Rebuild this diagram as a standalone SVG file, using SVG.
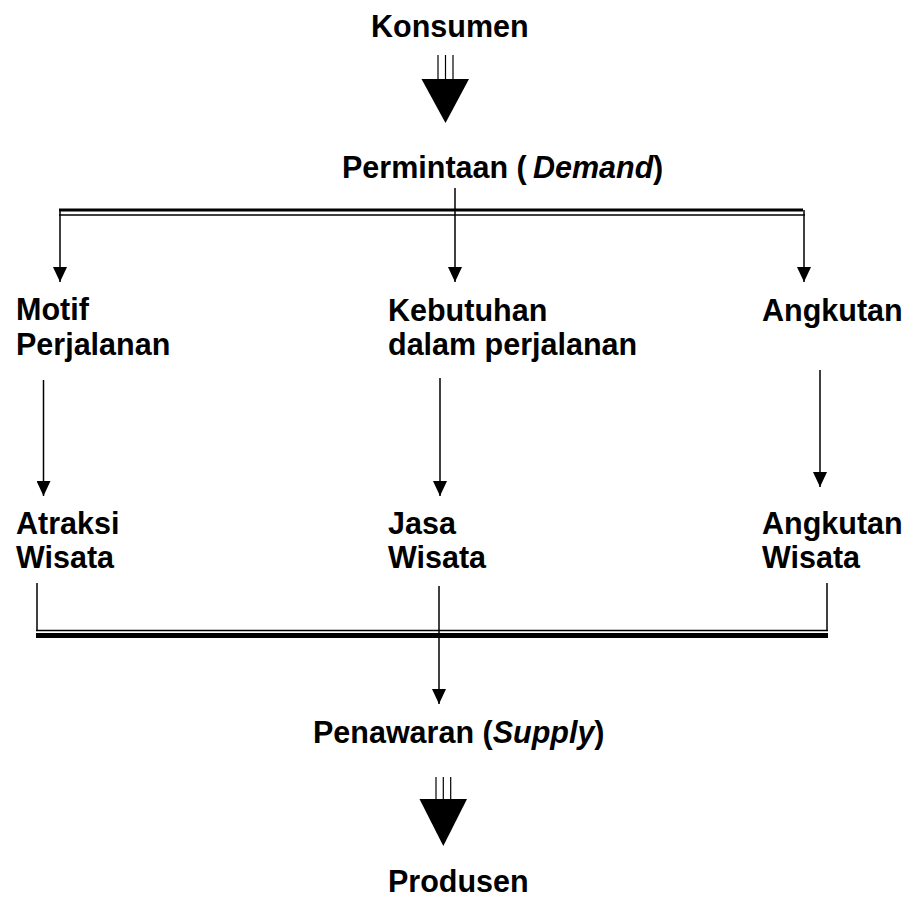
<svg xmlns="http://www.w3.org/2000/svg" width="907" height="897" viewBox="0 0 907 897">
<style>
text{font-family:"Liberation Sans",Arial,sans-serif;font-weight:bold;font-size:30.5px;fill:#000}
.it{font-style:italic}
.ln{stroke:#000;stroke-width:1.5;fill:none}
.thin{stroke:#000;stroke-width:1.2;fill:none}
.head{fill:#000}
</style>
<defs>
<marker id="ah" viewBox="0 0 15 14" refX="15" refY="7" markerWidth="15" markerHeight="14" markerUnits="userSpaceOnUse" orient="auto">
<path d="M0,0 L15,7 L0,14 Z" fill="#000"/>
</marker>
</defs>
<rect width="907" height="897" fill="#fff"/>

<g id="konsumen"><text x="371" y="37">Konsumen</text></g>
<g id="permintaan"><text x="342" y="178">Permintaan (<tspan x="533" class="it">Demand</tspan><tspan x="653">)</tspan></text></g>
<g id="motif"><text x="16" y="320">Motif</text><text x="16" y="355">Perjalanan</text></g>
<g id="kebutuhan"><text x="388" y="321">Kebutuhan</text><text x="388" y="355">dalam perjalanan</text></g>
<g id="angkutan"><text x="762" y="321">Angkutan</text></g>
<g id="atraksi"><text x="16" y="534">Atraksi</text><text x="16" y="568">Wisata</text></g>
<g id="jasa"><text x="388" y="534">Jasa</text><text x="388" y="568">Wisata</text></g>
<g id="angkutan-wisata"><text x="762" y="534">Angkutan</text><text x="762" y="568">Wisata</text></g>
<g id="penawaran"><text x="313" y="743">Penawaran (<tspan class="it">Supply</tspan>)</text></g>
<g id="produsen"><text x="388" y="892">Produsen</text></g>

<g id="connectors">
<g class="thin"><line x1="438" y1="55" x2="438" y2="80"/><line x1="445.5" y1="55" x2="445.5" y2="80"/><line x1="453" y1="55" x2="453" y2="80"/></g>
<polygon class="head" points="421.5,79 469,79 445.5,123"/>
<line x1="59" y1="210" x2="803" y2="210" stroke="#000" stroke-width="3"/>
<line x1="59" y1="215" x2="805" y2="215" stroke="#000" stroke-width="1.5"/>
<line class="ln" x1="455" y1="188" x2="455" y2="282" marker-end="url(#ah)"/>
<line class="ln" x1="60" y1="210" x2="60" y2="282" marker-end="url(#ah)"/>
<line class="ln" x1="804" y1="210" x2="804" y2="282" marker-end="url(#ah)"/>
<line class="ln" x1="43.5" y1="380" x2="43.5" y2="496" marker-end="url(#ah)"/>
<line class="ln" x1="440" y1="378" x2="440" y2="496" marker-end="url(#ah)"/>
<line class="ln" x1="820" y1="370" x2="820" y2="487" marker-end="url(#ah)"/>
<line class="ln" x1="37" y1="583" x2="37" y2="631"/>
<line class="ln" x1="827" y1="583" x2="827" y2="631"/>
<line x1="36" y1="630.5" x2="828" y2="630.5" stroke="#000" stroke-width="1.5"/>
<line x1="36" y1="635.5" x2="828" y2="635.5" stroke="#000" stroke-width="5"/>
<line class="ln" x1="439" y1="586" x2="439" y2="704" marker-end="url(#ah)"/>
<g class="thin"><line x1="436" y1="777" x2="436" y2="800"/><line x1="443.3" y1="777" x2="443.3" y2="800"/><line x1="450.7" y1="777" x2="450.7" y2="800"/></g>
<polygon class="head" points="419.5,799 467,799 443.3,846"/>
</g>
</svg>
